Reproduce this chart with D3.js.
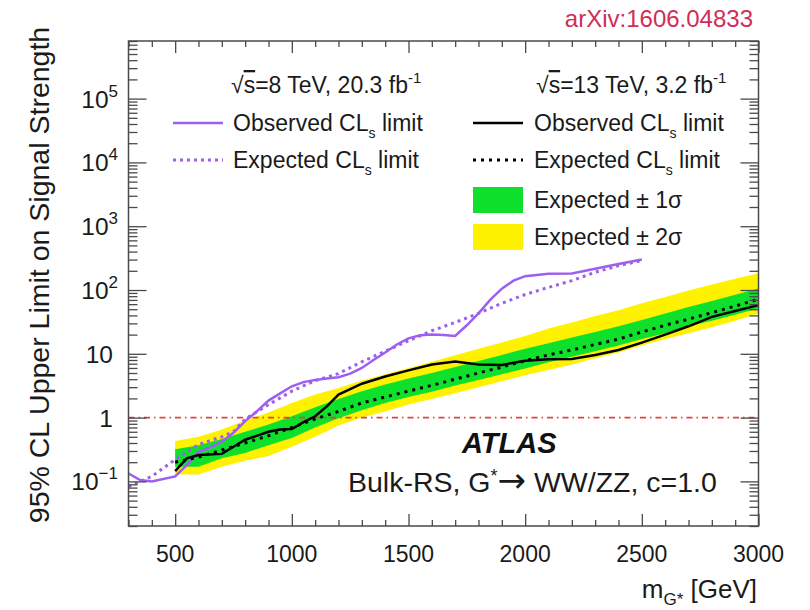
<!DOCTYPE html>
<html>
<head>
<meta charset="utf-8">
<script src="https://cdn.jsdelivr.net/npm/d3@7"></script>
<style>
body { margin: 0; background: #fff; }
svg { font-family: 'Liberation Sans', Arial, Helvetica, sans-serif; }
</style>
</head>
<body>
<div id="chart"></div>
<script>
const WIDTH = 810;
const HEIGHT = 610;
const FRAME = {left: 128.5, right: 758.5, top: 41, bottom: 526};

// sqrt(s)=8 TeV, 20.3 fb-1 (purple)
const obs8Mass = [300, 350, 400, 500, 550, 600, 650, 700, 750, 800, 850, 900, 950, 1000, 1050, 1100, 1150, 1200, 1250, 1300, 1350, 1400, 1450, 1500, 1550, 1600, 1650, 1700, 1750, 1800, 1850, 1900, 1950, 2000, 2100, 2200, 2300, 2400, 2500];
const obs8Val = [0.133, 0.105, 0.10, 0.12, 0.18, 0.29, 0.34, 0.42, 0.58, 0.88, 1.25, 1.85, 2.4, 3.1, 3.6, 3.9, 4.1, 4.3, 4.9, 6.0, 8.0, 10.5, 14, 17.5, 19.5, 20, 19.8, 19, 28, 43, 70, 105, 140, 165, 180, 182, 215, 255, 300];
const exp8Mass = [300, 400, 500, 600, 700, 750, 800, 900, 1000, 1100, 1200, 1300, 1400, 1500, 1600, 1700, 1800, 1900, 2000, 2100, 2200, 2300, 2400, 2500];
const exp8Val = [0.083, 0.12, 0.22, 0.38, 0.5, 0.6, 0.95, 1.6, 2.6, 3.8, 4.9, 7.5, 11, 16, 23, 31, 43, 62, 85, 110, 140, 190, 240, 290];

// sqrt(s)=13 TeV, 3.2 fb-1 (black + bands)
const mass13 = [500, 600, 700, 800, 900, 1000, 1100, 1200, 1300, 1400, 1500, 1600, 1700, 1800, 1900, 2000, 2100, 2200, 2300, 2400, 2500, 2600, 2700, 2800, 2900, 3000];
const exp13 = [0.20, 0.24, 0.31, 0.40, 0.52, 0.70, 0.95, 1.25, 1.7, 2.1, 2.6, 3.2, 4.0, 5.0, 6.2, 7.8, 9.6, 11.5, 14, 17, 22, 28, 35, 44, 56, 72];
const band1Lo = [0.17, 0.17, 0.23, 0.28, 0.37, 0.48, 0.70, 0.98, 1.3, 1.7, 2.1, 2.55, 3.2, 3.9, 4.8, 5.9, 7.4, 9.0, 11, 13.5, 17, 21, 27, 33, 41, 52];
const band1Hi = [0.32, 0.37, 0.46, 0.60, 0.78, 1.05, 1.45, 1.95, 2.6, 3.3, 4.1, 5.0, 6.2, 7.7, 9.6, 12, 14.7, 18, 22, 27, 34, 43, 54, 67, 84, 106];
const band2Lo = [0.128, 0.128, 0.17, 0.21, 0.25, 0.35, 0.50, 0.75, 1.0, 1.25, 1.6, 1.95, 2.4, 3.0, 3.7, 4.6, 5.6, 6.8, 8.5, 10.5, 13.5, 17, 21, 26, 33, 43];
const band2Hi = [0.43, 0.50, 0.65, 0.90, 1.2, 1.7, 2.3, 2.9, 3.8, 4.8, 6.0, 7.5, 9.5, 12, 15, 19, 25, 31, 39, 48, 62, 78, 98, 122, 150, 183];
const obs13Mass = [500, 550, 600, 700, 750, 800, 900, 950, 1000, 1050, 1100, 1150, 1200, 1250, 1300, 1400, 1500, 1600, 1700, 1750, 1800, 1900, 2000, 2100, 2200, 2300, 2400, 2500, 2600, 2700, 2800, 2900, 3000];
const obs13Val = [0.145, 0.23, 0.26, 0.27, 0.35, 0.45, 0.60, 0.65, 0.66, 0.85, 1.05, 1.5, 2.3, 2.8, 3.4, 4.4, 5.5, 6.8, 7.6, 7.2, 6.8, 6.7, 7.8, 8.2, 8.3, 9.6, 11.5, 15, 20, 27, 38, 47, 58];

// axes
const xMajorTicks = [500, 1000, 1500, 2000, 2500, 3000];
const yLabelValues = [0.1, 1, 10, 100, 1e3, 1e4, 1e5];
const yLabelBase = ['10', '1', '10', '10', '10', '10', '10'];
const yLabelExp = ['\u22121', '', '', '2', '3', '4', '5'];

const PURPLE = '#9d5ff0';
const GREEN = '#0fe02c';
const YELLOW = '#fff200';
const TEXT = '#1a1a1a';

const svg = d3.select('#chart')
.append('svg')
.attr('width', WIDTH)
.attr('height', HEIGHT);

const x = d3.scaleLinear()
.domain([300, 3000])
.range([FRAME.left, FRAME.right]);

const y = d3.scaleLog()
.domain([0.02, 8e5])
.range([FRAME.bottom, FRAME.top]);

const zip = (a, b) => a.map((m, i) => [m, b[i]]);

// bands first
const bandRows = mass13.map((m, i) => ({m, lo1: band1Lo[i], hi1: band1Hi[i], lo2: band2Lo[i], hi2: band2Hi[i]}));
svg.append('path')
.datum(bandRows)
.attr('fill', YELLOW)
.attr('d', d3.area().x(d => x(d.m)).y0(d => y(d.lo2)).y1(d => y(d.hi2)));
svg.append('path')
.datum(bandRows)
.attr('fill', GREEN)
.attr('d', d3.area().x(d => x(d.m)).y0(d => y(d.lo1)).y1(d => y(d.hi1)));

// y = 1 reference line
svg.append('line')
.attr('x1', x(300))
.attr('x2', x(3000))
.attr('y1', y(1))
.attr('y2', y(1))
.attr('stroke', '#e8403a')
.attr('stroke-width', 1.6)
.attr('stroke-dasharray', '6,4,1.5,4');

const line = d3.line().x(d => x(d[0])).y(d => y(d[1]));

svg.append('path')
.datum(zip(exp8Mass, exp8Val))
.attr('fill', 'none')
.attr('stroke', PURPLE)
.attr('stroke-width', 3)
.attr('stroke-dasharray', '3,4')
.attr('d', line);
svg.append('path')
.datum(zip(obs8Mass, obs8Val))
.attr('fill', 'none')
.attr('stroke', PURPLE)
.attr('stroke-width', 2.5)
.attr('d', line);
svg.append('path')
.datum(zip(mass13, exp13))
.attr('fill', 'none')
.attr('stroke', '#000')
.attr('stroke-width', 3)
.attr('stroke-dasharray', '3,5')
.attr('d', line);
svg.append('path')
.datum(zip(obs13Mass, obs13Val))
.attr('fill', 'none')
.attr('stroke', '#000')
.attr('stroke-width', 2.5)
.attr('d', line);

// frame + inward ticks on all four sides
const FRAME_COLOR = '#4a4a4a';
const xMinor = d3.range(300, 3001, 100).filter(v => v % 500 !== 0);
const yAll = y.ticks();
const yMajor = yAll.filter(v => Math.abs(Math.log10(v) - Math.round(Math.log10(v))) < 1e-9);
const yMinor = yAll.filter(v => !yMajor.includes(v));

function tickAxis(axisFn, scale, values, size, transform) {
    svg.append('g')
    .attr('transform', transform)
    .call(axisFn(scale).tickValues(values).tickSize(size).tickFormat(''))
    .call(g => g.select('.domain').remove())
    .call(g => g.selectAll('line').attr('stroke', FRAME_COLOR).attr('stroke-width', 1.3));
}
tickAxis(d3.axisBottom, x, xMajorTicks, -12, `translate(0,${FRAME.bottom})`);
tickAxis(d3.axisBottom, x, xMinor, -6, `translate(0,${FRAME.bottom})`);
tickAxis(d3.axisTop, x, xMajorTicks, -12, `translate(0,${FRAME.top})`);
tickAxis(d3.axisTop, x, xMinor, -6, `translate(0,${FRAME.top})`);
tickAxis(d3.axisLeft, y, yMajor, -18, `translate(${FRAME.left},0)`);
tickAxis(d3.axisLeft, y, yMinor, -9, `translate(${FRAME.left},0)`);
tickAxis(d3.axisRight, y, yMajor, -18, `translate(${FRAME.right},0)`);
tickAxis(d3.axisRight, y, yMinor, -9, `translate(${FRAME.right},0)`);

svg.append('rect')
.attr('x', FRAME.left)
.attr('y', FRAME.top)
.attr('width', FRAME.right - FRAME.left)
.attr('height', FRAME.bottom - FRAME.top)
.attr('fill', 'none')
.attr('stroke', FRAME_COLOR)
.attr('stroke-width', 1.5);

// tick labels
svg.append('g')
.selectAll('text')
.data(xMajorTicks)
.enter()
.append('text')
.attr('x', d => x(d))
.attr('y', 562)
.attr('text-anchor', 'middle')
.attr('font-size', 23)
.attr('fill', TEXT)
.text(d => d);

const yLab = svg.append('g')
.selectAll('text')
.data(yLabelValues)
.enter()
.append('text')
.attr('x', (d, i) => yLabelExp[i] ? 118 : 113)
.attr('y', d => y(d) + 9)
.attr('text-anchor', 'end')
.attr('font-size', 24.5)
.attr('fill', TEXT);
yLab.append('tspan').text((d, i) => yLabelBase[i]);
yLab.append('tspan')
.attr('dy', -11)
.attr('font-size', 17)
.text((d, i) => yLabelExp[i]);

// axis titles
svg.append('text')
.attr('transform', 'translate(49,275) rotate(-90)')
.attr('text-anchor', 'middle')
.attr('font-size', 28.5)
.attr('fill', TEXT)
.text('95% CL Upper Limit on Signal Strength');

const xTitle = svg.append('text')
.attr('x', 757)
.attr('y', 598)
.attr('text-anchor', 'end')
.attr('font-size', 26)
.attr('fill', TEXT);
xTitle.append('tspan').text('m');
xTitle.append('tspan').attr('dy', 7).attr('font-size', 17).text('G*');
xTitle.append('tspan').attr('dy', -7).text(' [GeV]');

svg.append('text')
.attr('x', 753)
.attr('y', 27)
.attr('text-anchor', 'end')
.attr('font-size', 24)
.attr('fill', '#d12d57')
.text('arXiv:1606.04833');

// legend headers
function header(xPos, energy, lumi) {
    const t = svg.append('text')
    .attr('x', xPos)
    .attr('y', 93)
    .attr('font-size', 23)
    .attr('fill', TEXT);
    t.append('tspan').text('\u221A');
    t.append('tspan').attr('text-decoration', 'overline').text('s');
    t.append('tspan').text(`=${energy} TeV, ${lumi} fb`);
    t.append('tspan').attr('dy', -10).attr('font-size', 15).text('-1');
}
header(231, 8, '20.3');
header(536, 13, '3.2');

// legend entries
function legendText(xPos, yPos, parts) {
    const t = svg.append('text')
    .attr('x', xPos)
    .attr('y', yPos + 8)
    .attr('font-size', 23)
    .attr('fill', TEXT);
    parts.forEach(p => {
        const s = t.append('tspan').text(p.t);
        if (p.sub) s.attr('dy', 7).attr('font-size', 14);
        if (p.back) s.attr('dy', -7);
    });
}
const clParts = word => [{t: `${word} CL`}, {t: 's', sub: true}, {t: ' limit', back: true}];

function legendLine(x1, yPos, color, dash, width) {
    svg.append('line')
    .attr('x1', x1).attr('x2', x1 + 50)
    .attr('y1', yPos).attr('y2', yPos)
    .attr('stroke', color)
    .attr('stroke-width', width)
    .attr('stroke-dasharray', dash);
}
legendLine(173, 123, PURPLE, null, 2.5);
legendText(233, 123, clParts('Observed'));
legendLine(173, 160, PURPLE, '3,4', 3);
legendText(233, 160, clParts('Expected'));

legendLine(473, 123, '#000', null, 2.5);
legendText(534, 123, clParts('Observed'));
legendLine(473, 160, '#000', '3,5', 3);
legendText(534, 160, clParts('Expected'));

svg.append('rect').attr('x', 473).attr('y', 187).attr('width', 50).attr('height', 26).attr('fill', GREEN);
legendText(534, 200, [{t: 'Expected \u00B1 1\u03C3'}]);
svg.append('rect').attr('x', 473).attr('y', 224).attr('width', 50).attr('height', 26).attr('fill', YELLOW);
legendText(534, 237, [{t: 'Expected \u00B1 2\u03C3'}]);

// ATLAS label
svg.append('text')
.attr('x', 462)
.attr('y', 453)
.attr('font-size', 29)
.attr('font-weight', 'bold')
.attr('font-style', 'italic')
.attr('fill', '#111')
.text('ATLAS');

const model = svg.append('text')
.attr('x', 348)
.attr('y', 492)
.attr('font-size', 28.5)
.attr('fill', TEXT);
model.append('tspan').text('Bulk-RS, G');
model.append('tspan').attr('dy', -10).attr('font-size', 18).text('*');
model.append('tspan').attr('dy', 10).attr('font-family', 'DejaVu Sans').attr('font-size', 34).text('\u2192');
model.append('tspan').text(' WW/ZZ, c=1.0');
</script>
</body>
</html>
